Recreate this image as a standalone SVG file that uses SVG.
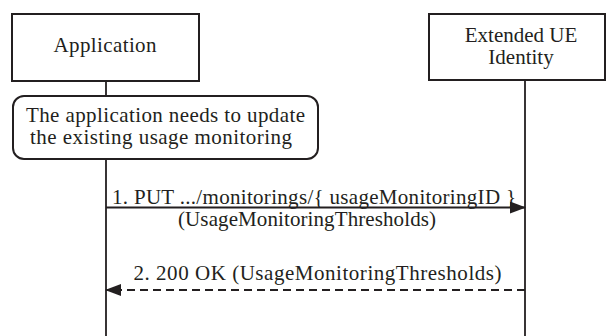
<svg xmlns="http://www.w3.org/2000/svg" width="606" height="336" viewBox="0 0 606 336">
<style>
text{font-family:"Liberation Serif","Times New Roman",serif;font-size:21px;fill:#231f20}
.box{fill:#fff;stroke:#231f20;stroke-width:2}
.life{stroke:#231f20;stroke-width:1.8;fill:none}
.msg{stroke:#231f20;stroke-width:1.8;fill:none}
.dash{stroke-dasharray:8 5}
</style>
<defs>
<marker id="ah" markerWidth="16" markerHeight="12" refX="15" refY="6" orient="auto" markerUnits="userSpaceOnUse">
<path d="M0,0 L16,6 L0,12 Z" fill="#231f20"/>
</marker>
</defs>
<g id="lifelines">
<line class="life" x1="106" y1="81" x2="106" y2="336"/>
<line class="life" x1="525" y1="80" x2="525" y2="336"/>
</g>
<g id="app">
<rect class="box" x="12" y="14" width="187" height="67"/>
<text x="105" y="52" text-anchor="middle" textLength="103">Application</text>
</g>
<g id="ue">
<rect class="box" x="429" y="14" width="176" height="66"/>
<text x="521" y="41.5" text-anchor="middle">Extended UE</text>
<text x="521" y="63.5" text-anchor="middle">Identity</text>
</g>
<g id="note">
<rect class="box" x="13" y="96" width="305" height="63" rx="11" ry="11"/>
<text x="165.5" y="121.5" text-anchor="middle" textLength="279">The application needs to update</text>
<text x="161" y="143.5" text-anchor="middle" textLength="262">the existing usage monitoring</text>
</g>
<g id="connectors">
<line class="msg" x1="106" y1="207.5" x2="525" y2="207.5" marker-end="url(#ah)"/>
<line class="msg dash" x1="525" y1="290" x2="106" y2="290" marker-end="url(#ah)"/>
</g>
<g id="labels">
<text x="112" y="204" textLength="404">1. PUT .../monitorings/{ usageMonitoringID }</text>
<text x="307" y="226" text-anchor="middle" textLength="258">(UsageMonitoringThresholds)</text>
<text x="317.5" y="279.5" text-anchor="middle" textLength="368">2. 200 OK (UsageMonitoringThresholds)</text>
</g>
</svg>
